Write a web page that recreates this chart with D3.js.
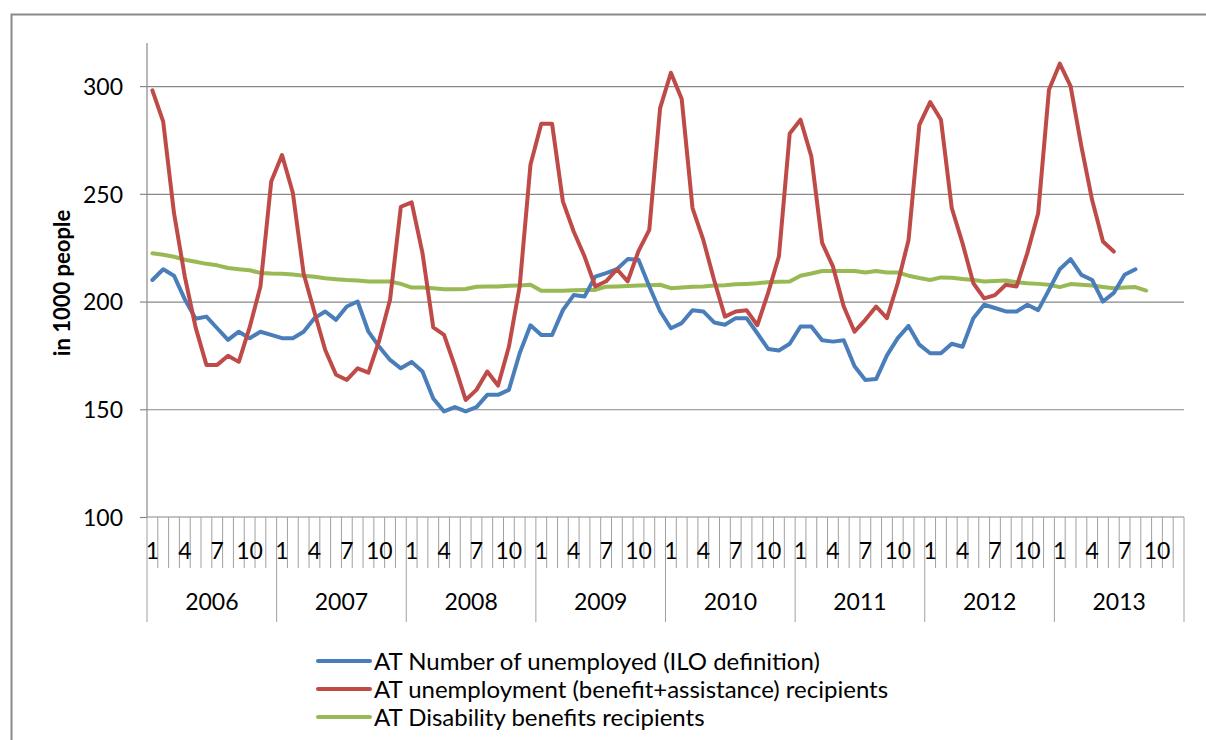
<!DOCTYPE html>
<html><head><meta charset="utf-8">
<script src="https://cdn.jsdelivr.net/npm/d3@7"></script>
<style>body{margin:0;background:#fff}svg{display:block}text{font-family:Lato,"Open Sans",sans-serif;fill:#000}</style>
</head><body><svg id="c" width="1206" height="740"></svg>
<script>
const years = [2006, 2007, 2008, 2009, 2010, 2011, 2012, 2013];
const monthLabels = ["1","","","4","","","7","","","10","",""];
const yTicks = [100, 150, 200, 250, 300];

const iloUnemployed = [
 210,215,212,201,192,193,187.6,182.2,186,183,186,184.5,
 183,183,186,192.3,195.4,191.5,197.7,200,186,179,172.9,169,
 172,167.5,155,149,151,149,151,156.7,156.7,159,176,189,
 184.5,184.5,196,203,202.3,211.6,213.2,215,219.7,219.4,207,195.5,
 187.6,190,196,195.4,190.3,189.2,192.3,192.3,185.3,178,177.3,180.4,
 188.4,188.4,182,181.4,182,170,163.6,164,175,183,188.7,180,
 176,176,180.4,179,192.3,198.5,197,195.4,195.4,198.5,196,205.4,
 215,219.7,212.4,210,200,204,212.4,215
];
const benefitRecipients = [
 298,283.5,241,211.6,188,170.6,170.6,174.8,172,188,207,255.7,
 268,250.5,213,195,177.5,166,163.6,169,167,182,200.8,244,
 246,222.6,188,184.5,170,154.3,159,167.5,161,179,207,263.5,
 282.5,282.5,246.5,232.5,221,207,209.4,215,209.4,223.4,233.3,289.8,
 306.2,294,243.4,228.6,210,193,195.4,196,189,204,221,278,
 284.4,267.4,227.2,216.3,197.7,186,191.5,197.7,192.3,208.5,228.6,282,
 292.6,284.4,243.4,227,208.5,201.5,203,207.8,207,222.6,241,298.3,
 310.4,300,272,247,227.9,223.2
];
const disabilityRecipients = [
 222.4,221.7,220.8,219.4,218.5,217.5,216.8,215.6,215,214.5,213.3,213,
 212.9,212.5,212,211.5,210.8,210.4,210,209.8,209.3,209.3,209.3,208.2,
 206.5,206.5,206.2,205.7,205.7,205.8,206.9,207,207,207.3,207.5,207.8,
 205,205,205,205.2,205.4,205.4,206.9,207,207.2,207.4,207.6,207.8,
 206.2,206.5,206.9,207,207.4,207.6,208,208.2,208.5,209,209.2,209.3,
 212,213,214.2,214.2,214.2,214.2,213.5,214.2,213.5,213.5,212,210.9,
 210,211.2,211,210.5,210,209.3,209.5,209.8,209,208.5,208.2,207.8,
 206.7,208.1,207.8,207.4,206.8,206.2,206.5,206.7,205.1
];
const seriesNames = ["AT Number of unemployed (ILO definition)","AT unemployment (benefit+assistance) recipients","AT Disability benefits recipients"];
const seriesColors = ["#4A7EBB","#BE4B48","#98B954"];
const yTitle = "in 1000 people";

const keys = [];
years.forEach(y => monthLabels.forEach((m,i) => keys.push(y + "-" + (i+1))));

const svg = d3.select("#c");
const L = 147, R = 1184, T = 43, B = 517;
const x = d3.scaleBand().domain(keys).range([L, R]).padding(0);
const y = d3.scaleLinear().domain([100, 320]).range([B, T]);
const cx = k => x(k) + x.bandwidth()/2;

// outer border
svg.append("rect").attr("x",11.5).attr("y",14.5).attr("width",1220).attr("height",740)
  .attr("fill","none").attr("stroke","#898989").attr("stroke-width",2);

// gridlines
svg.append("g").attr("transform",`translate(${L},0)`)
  .call(d3.axisLeft(y).tickValues(yTicks.slice(1)).tickSize(-(R-L)).tickFormat(""))
  .call(g => g.select(".domain").remove())
  .call(g => g.selectAll("line").attr("stroke","#888").attr("stroke-width",1.2));

// y axis
const ya = svg.append("g").attr("transform",`translate(${L},0)`)
  .call(d3.axisLeft(y).tickValues(yTicks).tickSize(7).tickPadding(17));
ya.select(".domain").attr("stroke","#888").attr("stroke-width",1.2).attr("d",`M0,${T}V${B}`);
ya.selectAll("line").attr("stroke","#888").attr("stroke-width",1.2);
ya.selectAll("text").attr("font-size",23).attr("font-family","Lato,sans-serif").attr("fill","#1a1a1a").attr("dy","0.36em");

svg.append("text").attr("transform",`translate(70,283) rotate(-90)`)
  .attr("text-anchor","middle").attr("font-size",22).attr("font-weight","bold").text(yTitle);

// x axis baseline
svg.append("line").attr("x1",L).attr("x2",R).attr("y1",B).attr("y2",B).attr("stroke","#888").attr("stroke-width",1.2);
// month separators
const xg = svg.append("g");
keys.forEach((k,i) => {
  const isYear = i % 12 === 0;
  xg.append("line").attr("x1",x(k)).attr("x2",x(k)).attr("y1",B).attr("y2",isYear?622:568)
    .attr("stroke","#a0a0a0").attr("stroke-width",1);
});
xg.append("line").attr("x1",R).attr("x2",R).attr("y1",B).attr("y2",622).attr("stroke","#a0a0a0").attr("stroke-width",1);
// month labels
keys.forEach((k,i) => {
  const lab = monthLabels[i % 12];
  if (lab) xg.append("text").attr("x",cx(k)).attr("y",559).attr("text-anchor","middle").attr("font-size",23).attr("fill","#1a1a1a").text(lab);
});
// year labels
years.forEach((yr,j) => {
  const k0 = keys[j*12], k1 = keys[j*12+11];
  xg.append("text").attr("x",(x(k0)+x(k1)+x.bandwidth())/2).attr("y",610).attr("text-anchor","middle").attr("font-size",23).attr("fill","#1a1a1a").text(yr);
});

// lines
const data = [iloUnemployed, benefitRecipients, disabilityRecipients];
const line = d3.line().x((d,i) => cx(keys[i])).y(d => y(d));
[2,0,1].forEach(s => {
  svg.append("path").datum(data[s]).attr("d",line).attr("fill","none")
    .attr("stroke",seriesColors[s]).attr("stroke-width",4).attr("stroke-linejoin","round").attr("stroke-linecap","round");
});

// legend
seriesNames.forEach((n,i) => {
  const yy = 661 + i*28;
  svg.append("line").attr("x1",318).attr("x2",370).attr("y1",yy).attr("y2",yy).attr("stroke",seriesColors[i]).attr("stroke-width",4).attr("stroke-linecap","round");
  svg.append("text").attr("x",374).attr("y",yy+9).attr("font-size",24).attr("fill","#1a1a1a").text(n);
});
</script></body></html>
